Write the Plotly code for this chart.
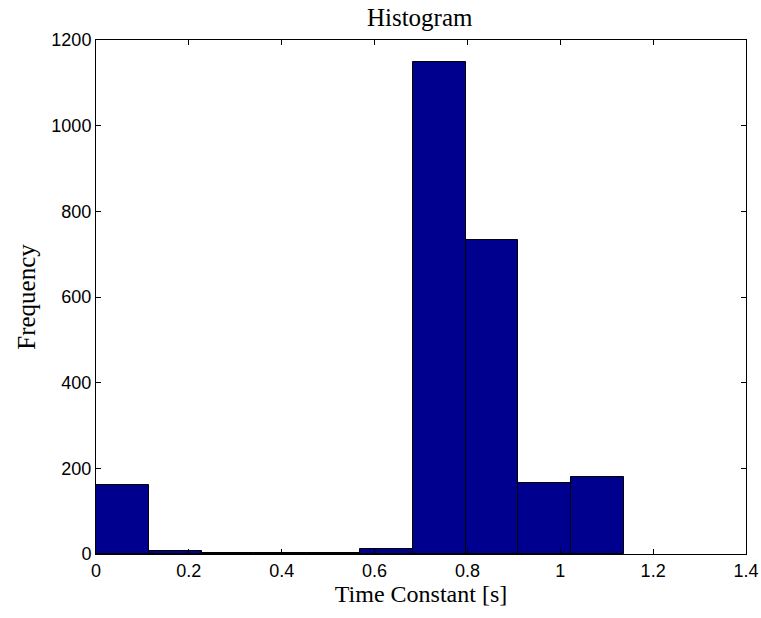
import plotly.graph_objects as go

# Histogram data (10 bins from 0 to ~1.137 s)
bin_centers = [0.0569, 0.1706, 0.2843, 0.3980, 0.5117, 0.6254, 0.7391, 0.8528, 0.9665, 1.0802]
counts = [161, 8, 3, 3, 3, 12, 1149, 732, 165, 180]
bin_width = 0.1137

x_ticks = [0, 0.2, 0.4, 0.6, 0.8, 1, 1.2, 1.4]
x_tick_labels = ["0", "0.2", "0.4", "0.6", "0.8", "1", "1.2", "1.4"]
y_ticks = [0, 200, 400, 600, 800, 1000, 1200]

fig = go.Figure()
fig.add_trace(go.Bar(
    x=bin_centers, y=counts, width=bin_width,
    marker=dict(color="#00008F", line=dict(color="black", width=1)),
))

axis_common = dict(
    showgrid=False, zeroline=False, showline=True, linecolor="black", linewidth=1,
    mirror="ticks", ticks="inside", ticklen=5, tickcolor="black", tickwidth=1,
    tickfont=dict(family="Liberation Sans, Arial", size=18, color="black"),
    automargin=False,
)

serif = "Liberation Serif, Times New Roman"

fig.update_layout(
    width=761, height=618,
    margin=dict(l=96, r=15, t=40, b=64),
    paper_bgcolor="white", plot_bgcolor="white",
    showlegend=False,
    title=dict(text="Histogram", x=0.5515, xanchor="center", y=0.972, yanchor="middle",
               font=dict(family=serif, size=25, color="black")),
    xaxis=dict(range=[0, 1.4], tickvals=x_ticks, ticktext=x_tick_labels,
               title=dict(text="Time Constant [s]", standoff=4,
                          font=dict(family=serif, size=24, color="black")),
               **axis_common),
    yaxis=dict(range=[0, 1200], tickvals=y_ticks,
               title=dict(text="Frequency", standoff=8,
                          font=dict(family=serif, size=25, color="black")),
               **axis_common),
    bargap=0,
)

fig.write_html(
    "out.html",
    config={"displayModeBar": False},
    post_script="document.body.style.margin='0';document.body.style.overflow='hidden';",
)
